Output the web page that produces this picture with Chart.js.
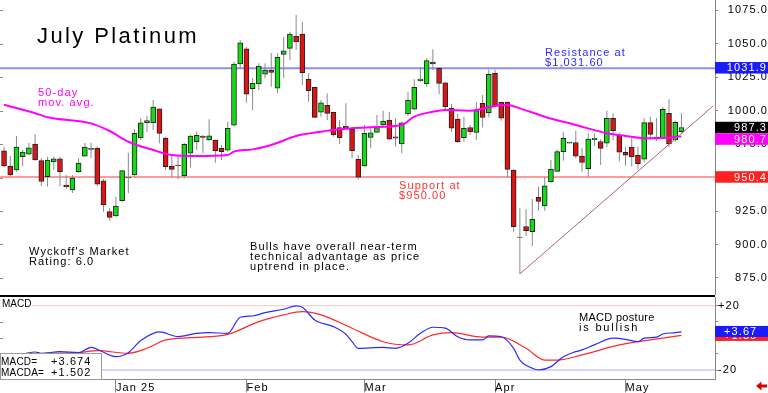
<!DOCTYPE html>
<html>
<head>
<meta charset="utf-8">
<title>July Platinum</title>
<script src="https://cdn.jsdelivr.net/npm/chart.js@4.4.1/dist/chart.umd.min.js"></script>
<style>
  html, body { margin: 0; padding: 0; background: #fff; }
  #wrap { position: relative; width: 768px; height: 393px; overflow: hidden; background: #fff; }
  #priceChart { position: absolute; left: 0; top: 0; width: 768px; height: 295px; }
  #macdChart { position: absolute; left: 0; top: 295px; width: 768px; height: 98px; }
</style>
</head>
<body>
<div id="wrap">
  <canvas id="priceChart" width="768" height="295"></canvas>
  <canvas id="macdChart" width="768" height="98"></canvas>
</div>
<script>
// July Platinum - daily candles, 50-day MA, MACD
// --- data ---
const opens = [
  970.0, 958.6, 955.6, 965.5, 967.5, 975.0, 962.6, 950.6, 961.6, 964.0,
  944.4, 940.7, 954.3, 966.0, 971.0, 972.0, 947.6, 924.5, 921.3, 932.7,
  949.6, 951.9, 979.5, 991.0, 990.9, 1001.3, 979.5, 958.6, 959.3, 951.3,
  968.1, 976.7, 981.0, 978.0, 978.0, 971.8, 970.5, 989.0, 1034.7, 1046.1,
  1016.3, 1019.8, 1027.2, 1030.2, 1016.6, 1041.9, 1046.4, 1055.6, 1057.1, 1023.3,
  1017.3, 998.7, 1003.9, 998.7, 987.2, 988.2, 986.0, 963.6, 958.6, 980.0,
  983.7, 989.2, 992.9, 980.4, 975.0, 997.4, 1001.1, 1022.2, 1019.8, 1036.2,
  1031.5, 1020.7, 1001.9, 993.7, 979.7, 987.2, 983.7, 1005.4, 998.4, 1027.8,
  1006.1, 1006.3, 955.6, 905.6, 913.3, 909.5, 935.2, 928.7, 946.9, 954.5,
  969.3, 975.7, 976.1, 965.8, 956.6, 978.3, 976.9, 975.7, 994.2, 981.5,
  968.8, 972.8, 966.6, 963.6, 991.0, 979.1, 979.3, 997.9, 978.0, 984.2
];
const highs = [
  973.0, 966.0, 981.0, 970.5, 975.7, 982.5, 964.6, 965.5, 965.5, 965.5,
  951.9, 951.9, 964.6, 975.7, 976.0, 973.0, 948.9, 927.2, 935.7, 955.6,
  968.5, 986.2, 994.4, 995.9, 1007.8, 1001.5, 980.4, 966.3, 966.8, 976.0,
  981.7, 984.2, 981.7, 993.4, 978.2, 974.3, 991.6, 1036.4, 1052.6, 1047.2,
  1024.0, 1035.2, 1035.2, 1042.9, 1042.9, 1055.1, 1058.8, 1071.3, 1066.3, 1027.8,
  1017.8, 1007.8, 1012.8, 999.1, 992.9, 1005.4, 986.7, 966.8, 989.2, 986.7,
  996.6, 999.9, 999.1, 994.2, 991.6, 1014.0, 1023.3, 1032.7, 1039.0, 1045.7,
  1032.2, 1021.5, 1004.8, 997.4, 995.4, 989.2, 1006.6, 1011.6, 1030.7, 1030.7,
  1006.6, 1006.6, 956.1, 927.0, 926.3, 934.0, 943.1, 950.6, 963.1, 971.0,
  984.2, 976.6, 984.9, 971.8, 983.0, 983.0, 978.6, 1000.1, 997.9, 983.6,
  973.0, 979.3, 973.0, 994.2, 995.4, 994.4, 1002.8, 1008.4, 992.4, 997.9
];
const lows = [
  957.8, 950.6, 954.3, 958.6, 966.8, 962.6, 943.7, 943.2, 955.6, 943.2,
  941.4, 938.4, 953.4, 965.5, 964.6, 943.7, 924.5, 917.8, 920.7, 931.9,
  938.2, 950.6, 978.0, 984.0, 985.4, 975.5, 955.6, 950.1, 948.7, 949.4,
  957.6, 970.5, 968.1, 977.5, 961.0, 963.1, 969.3, 988.0, 1031.5, 1005.8,
  1000.4, 1015.3, 1024.0, 1017.8, 1013.1, 1024.0, 1037.7, 1045.1, 1019.0, 1006.6,
  994.2, 995.4, 992.9, 980.4, 975.0, 986.7, 964.3, 948.7, 958.1, 971.8,
  984.2, 988.4, 978.0, 973.0, 968.1, 995.9, 1000.4, 1021.5, 1017.8, 1030.2,
  1012.3, 1000.4, 984.0, 976.0, 976.7, 981.7, 978.0, 987.5, 994.9, 1002.8,
  992.4, 950.2, 909.5, 878.0, 906.3, 898.9, 925.2, 925.2, 946.1, 954.3,
  962.5, 975.6, 964.3, 954.3, 950.6, 973.5, 959.3, 972.8, 978.0, 962.1,
  958.8, 958.2, 956.1, 961.3, 978.4, 977.2, 978.5, 973.0, 976.7, 983.4
];
const closes = [
  958.6, 951.9, 972.8, 969.0, 972.1, 963.1, 947.0, 963.1, 964.0, 954.3,
  942.9, 949.6, 960.8, 972.8, 972.0, 945.1, 929.5, 920.3, 928.7, 955.1,
  950.2, 983.0, 990.9, 992.5, 1002.6, 983.0, 958.1, 956.1, 958.8, 974.8,
  981.0, 981.5, 980.0, 981.2, 970.0, 969.3, 986.7, 1034.7, 1050.6, 1012.3,
  1020.3, 1033.2, 1030.2, 1028.5, 1039.7, 1044.6, 1057.1, 1051.3, 1028.2, 1014.8,
  994.9, 1005.8, 997.9, 981.7, 979.7, 986.9, 970.0, 950.2, 983.0, 983.4,
  987.2, 992.2, 978.7, 979.3, 990.9, 1007.8, 1017.3, 1023.5, 1037.2, 1034.7,
  1020.3, 1002.8, 986.9, 976.7, 986.7, 984.2, 999.9, 994.9, 1027.0, 1003.6,
  994.2, 956.1, 913.3, 905.2, 910.3, 918.8, 932.2, 943.7, 956.3, 969.3,
  979.3, 976.5, 966.0, 961.2, 978.6, 979.3, 971.8, 994.2, 984.9, 968.9,
  966.6, 965.3, 960.3, 991.0, 982.1, 979.9, 1000.9, 975.0, 991.2, 987.3
];

// 50-day moving average, read at these bar positions
const maIdx = [0, 5, 7, 14, 17, 20, 24, 27, 31, 36, 37, 40, 43, 47, 51, 54, 59, 64,
  66, 69, 71, 75, 79, 81, 83, 87, 92, 97, 100, 103, 107, 109];
const maVals = [1004.3, 998.0, 995.0, 990.4, 984.7, 976.7, 970.5, 966.8, 966.0, 966.8,
  969.3, 971.0, 974.3, 981.0, 984.2, 986.0, 987.5, 989.2, 995.4, 999.1, 1000.4, 999.9,
  1003.4, 1004.1, 1001.6, 995.4, 989.2, 983.0, 981.0, 979.3, 979.7, 980.7];

// levels and trend line
const resistanceLevel = 1031.6;
const supportLevel = 950.4;
const trendIdx = [83, 114.1];
const trendVals = [878.0, 1003.4];
const priceTicks = [875, 900, 925, 950, 975, 1000, 1025, 1050, 1075];
const priceTagVals = [1031.9, 987.3, 980.7, 950.4];

// MACD panel
const macdIdx = [0, 3, 5, 6, 9, 12, 14, 15, 18, 20, 22, 25, 28, 31, 33, 36, 38, 40, 42, 45,
  47, 48, 50, 53, 55, 56, 57, 61, 63, 65, 67, 69, 71, 73, 75, 77, 78, 80, 82, 83, 85, 86,
  88, 90, 92, 93, 95, 98, 100, 102, 103, 105, 106, 108, 109];
const macdVals = [-10.5, -10.0, -8.8, -9.6, -8.6, -9.2, -5.9, -7.1, -11.7, -9.2, -1.7, 3.7,
  0.8, 2.8, 3.2, 2.8, 12.8, 13.6, 15.7, 17.8, 19.9, 19.0, 11.1, 7.0, 2.2, -2.4, -6.5, -5.9,
  -6.5, -3.4, 2.8, 6.6, 6.0, 0.7, -1.3, -1.3, 1.2, 0.7, -6.5, -13.8, -18.9, -20.0, -17.9,
  -11.7, -8.6, -7.5, -4.4, -0.2, -0.9, -2.4, -0.2, 0.5, 2.4, 3.2, 3.674];
const macdaIdx = [0, 3, 7, 12, 15, 20, 23, 26, 30, 36, 41, 45, 48, 51, 56, 61, 65, 69, 72,
  77, 80, 84, 87, 89, 93, 99, 104, 109];
const macdaVals = [-10.8, -10.6, -9.6, -9.2, -8.0, -9.6, -6.5, -1.3, 0.1, 2.2, 10.1, 14.3,
  16.3, 14.3, 6.0, -2.4, -4.4, 1.8, 3.2, 0.4, 0.4, -6.5, -13.8, -13.8, -10.6, -4.4, -1.3, 1.502];
const macdLevels = [20, -20];
const macdTicks = [-20, -10, 0, 10, 20];

const monthIdx = [18, 39, 58, 79, 100];
const monthLabels = ['Jan 25', 'Feb', 'Mar', 'Apr', 'May'];

// --- styling ---
const FONT = "'Liberation Sans', Arial, sans-serif";
const SPACING = '1.1px';
const GREEN = '#14dc14';
const RED = '#dc1414';
const xMin = -0.65, xMax = 114.4;
const barIdx = opens.map((_, i) => i);

function fixAxis(w) {
  return s => { s.width = w; s.paddingTop = 0; s.paddingBottom = 0; };
}

function drawLines(ctx, lines, x, y, o) {
  ctx.save();
  ctx.font = (o.size || 11) + 'px ' + FONT;
  ctx.fillStyle = o.color || '#000';
  ctx.textAlign = o.align || 'left';
  ctx.textBaseline = 'alphabetic';
  lines.forEach((t, k) => {
    ctx.letterSpacing = Array.isArray(o.spacing) ? o.spacing[k] : (o.spacing || SPACING);
    ctx.fillText(t, x, y + k * (o.gap || 10.4));
  });
  ctx.restore();
}

function drawTag(ctx, left, top, w, h, bg, text, textX, align) {
  ctx.save();
  ctx.fillStyle = bg;
  ctx.fillRect(left, top, w, h);
  ctx.font = '11px ' + FONT;
  ctx.letterSpacing = SPACING;
  ctx.fillStyle = '#fff';
  ctx.textAlign = align;
  ctx.textBaseline = 'middle';
  ctx.fillText(text, textX, top + h / 2 + 0.5);
  ctx.restore();
}

// small tick marks on the left edge of a panel
function leftTicks(ctx, scale, values) {
  ctx.save();
  ctx.strokeStyle = '#888';
  ctx.lineWidth = 1;
  values.forEach(v => {
    const py = Math.round(scale.getPixelForValue(v)) + 0.5;
    ctx.beginPath();
    ctx.moveTo(0, py);
    ctx.lineTo(3, py);
    ctx.stroke();
  });
  ctx.restore();
}

const spacingPlugin = {
  id: 'spacing',
  beforeDraw(chart) { chart.ctx.letterSpacing = SPACING; }
};

// price panel notes and axis tags
const pricePlugin = {
  id: 'priceNotes',
  afterDatasetsDraw(chart) {
    const ctx = chart.ctx;
    drawLines(ctx, ['July Platinum'], 37, 43, { size: 22, spacing: '2.4px' });
    drawLines(ctx, ['50-day', 'mov. avg.'], 38, 95.5, { color: '#ff00ff' });
    drawLines(ctx, ["Wyckoff's Market", 'Rating: 6.0'], 29, 255, {});
    drawLines(ctx, ['Bulls have overall near-term', 'technical advantage as price',
      'uptrend in place.'], 250, 249.5, {});
    drawLines(ctx, ['Support at', '$950.00'], 399, 188.5, { color: '#ff3030' });
    drawLines(ctx, ['Resistance at', '$1,031.60'], 545, 56, { color: '#2a2aff' });
  },
  afterDraw(chart) {
    const { ctx, chartArea, scales: { y } } = chart;
    leftTicks(ctx, y, priceTicks);
    const colors = ['#1a1aff', '#000000', '#ff00ff', '#ff2020'];
    const h = 11.5;
    let prevBottom = -Infinity;
    priceTagVals.forEach((v, k) => {
      let top = y.getPixelForValue(v) - h / 2;
      if (top < prevBottom) top = prevBottom;
      drawTag(ctx, chartArea.right, top, 53, h, colors[k], v.toFixed(1), 767, 'right');
      prevBottom = top + h;
    });
  }
};

new Chart(document.getElementById('priceChart'), {
  type: 'bar',
  data: {
    datasets: [
      {
        type: 'line', label: 'Resistance',
        data: [{ x: xMin, y: resistanceLevel }, { x: xMax, y: resistanceLevel }],
        borderColor: '#8c8cff', borderWidth: 2, pointRadius: 0, order: 9
      },
      {
        type: 'line', label: 'Support',
        data: [{ x: xMin, y: supportLevel }, { x: xMax, y: supportLevel }],
        borderColor: '#ff7a7a', borderWidth: 1.5, pointRadius: 0, order: 9
      },
      {
        label: 'Range',
        data: barIdx.map(i => ({ x: i, y: [lows[i], highs[i]] })),
        backgroundColor: '#8a8a8a', barThickness: 1, inflateAmount: 0,
        grouped: false, order: 8
      },
      {
        label: 'Body',
        data: barIdx.map(i => ({ x: i, y: [opens[i], closes[i]] })),
        backgroundColor: barIdx.map(i => closes[i] >= opens[i] ? GREEN : RED),
        borderColor: '#222', borderWidth: 1, borderSkipped: false,
        barThickness: 5, grouped: false, order: 7
      },
      {
        type: 'line', label: '50-day',
        data: maIdx.map((x, k) => ({ x: x, y: maVals[k] })),
        borderColor: '#ff00ff', borderWidth: 2, pointRadius: 0,
        cubicInterpolationMode: 'monotone', order: 2
      },
      {
        type: 'line', label: 'Trend',
        data: trendIdx.map((x, k) => ({ x: x, y: trendVals[k] })),
        borderColor: '#b0607a', borderWidth: 1, pointRadius: 0, order: 1
      }
    ]
  },
  options: {
    responsive: false,
    animation: false,
    layout: { padding: 0 },
    plugins: { legend: { display: false }, tooltip: { enabled: false } },
    scales: {
      x: { type: 'linear', min: xMin, max: xMax, offset: false, display: false },
      y: {
        position: 'right', min: 862.3, max: 1082.5,
        afterFit: fixAxis(53),
        afterBuildTicks: s => { s.ticks = priceTicks.map(v => ({ value: v })); },
        ticks: {
          callback: v => v.toFixed(1), color: '#000',
          font: { family: FONT, size: 11 }, padding: 15, crossAlign: 'far'
        },
        grid: { drawOnChartArea: false, tickLength: 3, color: '#888' },
        border: { color: '#888' }
      }
    }
  },
  plugins: [spacingPlugin, pricePlugin]
});

// MACD panel extras
const macdPlugin = {
  id: 'macdNotes',
  afterDraw(chart) {
    const { ctx, chartArea, scales: { y } } = chart;
    leftTicks(ctx, y, [10, 0, -10]);
    // heavy divider between the panels
    ctx.save();
    ctx.fillStyle = '#000';
    ctx.fillRect(0, 0, chartArea.right, 2);
    // "MACD" caption
    ctx.fillStyle = '#fff';
    ctx.fillRect(0, 2, 32, 12);
    ctx.restore();
    drawLines(ctx, ['MACD'], 2, 12, { size: 10, spacing: '0px' });
    drawLines(ctx, ['MACD posture', 'is bullish'], 579, 25.7, { spacing: ['0.3px', '1.8px'] });
    // value box
    ctx.save();
    ctx.fillStyle = '#fff';
    ctx.strokeStyle = '#9a9a9a';
    ctx.lineWidth = 1;
    ctx.fillRect(0, 58.5, 101.5, 26);
    ctx.strokeRect(0.5, 58.5, 101, 26);
    ctx.restore();
    const lastMacd = macdVals[macdVals.length - 1];
    const lastMacda = macdaVals[macdaVals.length - 1];
    drawLines(ctx, ['MACD=', 'MACDA='], 1, 70, { size: 10, spacing: '0.2px', gap: 11 });
    drawLines(ctx, ['+' + lastMacd.toFixed(3), '+' + lastMacda.toFixed(3)], 51, 70, { gap: 11 });
    // axis tags
    const h = 11;
    drawTag(ctx, chartArea.right, y.getPixelForValue(lastMacda) - h / 2, 53, h, '#ff2020',
      '+' + lastMacda.toFixed(2), 724, 'left');
    drawTag(ctx, chartArea.right, y.getPixelForValue(lastMacd) - h / 2 - 0.5, 53, h, '#1a1aff',
      '+' + lastMacd.toFixed(2), 724, 'left');
    // red arrow, bottom right
    ctx.save();
    ctx.fillStyle = '#e00000';
    ctx.beginPath();
    ctx.moveTo(756, 91);
    ctx.lineTo(761.5, 86.5);
    ctx.lineTo(761.5, 95.5);
    ctx.closePath();
    ctx.fill();
    ctx.fillRect(761, 89.5, 6, 3);
    ctx.restore();
  }
};

new Chart(document.getElementById('macdChart'), {
  type: 'line',
  data: {
    datasets: [
      {
        label: '+20', data: [{ x: xMin, y: macdLevels[0] }, { x: xMax, y: macdLevels[0] }],
        borderColor: '#ffc4c4', borderWidth: 1, pointRadius: 0, order: 5
      },
      {
        label: '-20', data: [{ x: xMin, y: macdLevels[1] }, { x: xMax, y: macdLevels[1] }],
        borderColor: '#d4d4ff', borderWidth: 2, pointRadius: 0, order: 5
      },
      {
        label: 'MACDA', data: macdaIdx.map((x, k) => ({ x: x, y: macdaVals[k] })),
        borderColor: '#ff2a2a', borderWidth: 1.2, pointRadius: 0,
        cubicInterpolationMode: 'monotone', order: 2
      },
      {
        label: 'MACD', data: macdIdx.map((x, k) => ({ x: x, y: macdVals[k] })),
        borderColor: '#2a2aff', borderWidth: 1.2, pointRadius: 0,
        cubicInterpolationMode: 'monotone', order: 1
      }
    ]
  },
  options: {
    responsive: false,
    animation: false,
    layout: { padding: { top: 2 } },
    plugins: { legend: { display: false }, tooltip: { enabled: false } },
    scales: {
      x: {
        type: 'linear', min: xMin, max: xMax, offset: false,
        afterBuildTicks: s => { s.ticks = monthIdx.map(v => ({ value: v })); },
        afterFit: s => { s.height = 13.5; s.paddingLeft = 0; s.paddingRight = 0; },
        ticks: {
          callback: v => monthLabels[monthIdx.indexOf(v)],
          align: 'start', padding: -11.1, autoSkip: false, maxRotation: 0,
          color: '#000', font: { family: FONT, size: 11 }
        },
        grid: { drawOnChartArea: false, tickLength: 13, color: '#888' },
        border: { color: '#888' }
      },
      y: {
        position: 'right', min: -25.9, max: 25.4,
        afterFit: fixAxis(53),
        afterBuildTicks: s => { s.ticks = macdTicks.map(v => ({ value: v })); },
        ticks: {
          callback: v => (v === 20 ? '+20' : v === -20 ? '-20' : ''),
          crossAlign: 'near', padding: 0, color: '#000',
          font: { family: FONT, size: 11 }
        },
        grid: { drawOnChartArea: false, tickLength: 3, color: '#888' },
        border: { color: '#888' }
      }
    }
  },
  plugins: [spacingPlugin, macdPlugin]
});
</script>
</body>
</html>
